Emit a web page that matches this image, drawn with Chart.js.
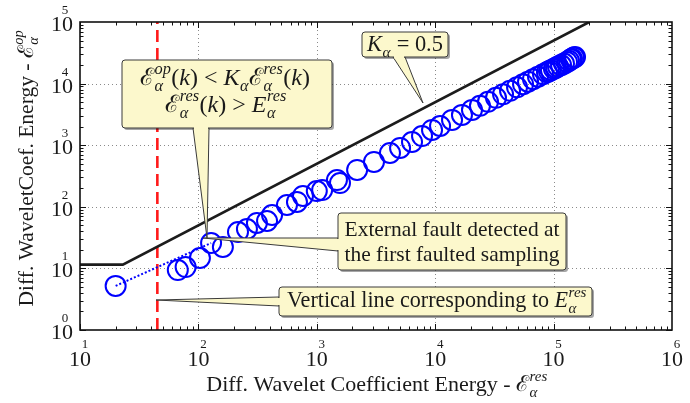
<!DOCTYPE html>
<html><head><meta charset="utf-8">
<script src="https://cdn.jsdelivr.net/npm/chart.js@4.4.0/dist/chart.umd.min.js"></script>
<style>html,body{margin:0;padding:0;background:#fff;}canvas{display:block;}</style>
</head><body>
<canvas id="c" width="690" height="403"></canvas>
<script>
// ---- data ----
const xRes = [20, 67, 78, 103, 128, 161, 216, 257, 312, 380, 419, 560, 680, 764, 1000, 1110, 1480, 1570, 2190, 3040, 4150, 5050, 6370, 7740, 9400, 10990, 13870, 16830, 20450, 23880, 27920, 32630, 37410, 42870, 49110, 55200, 60820, 67000, 73840, 81350, 87900, 91400, 95000, 100700, 104800, 108900, 115500, 122400, 129800, 134900, 140200, 143000, 148600, 151700];
const yOp = [5.2, 9.4, 10.5, 14.8, 25.8, 22.3, 39, 43.6, 54.6, 58.8, 73.6, 107, 120, 150, 180, 187, 272, 243, 396, 534, 747, 901, 1127, 1409, 1766, 2050, 2575, 3104, 3742, 4364, 5070, 5877, 6703, 7640, 8710, 9775, 10740, 11790, 12950, 14220, 15320, 15900, 16500, 17470, 18150, 18890, 19950, 21120, 22340, 23500, 24800, 25300, 26500, 27000];
const linkX = [20, 128];
const linkY = [5.2, 25.8];
const thrX = [10, 23, 200000];
const thrY = [11.5, 11.5, 100000];
const eResX = [45, 45];
const eResY = [1, 100000];
const xTickExp = [1, 2, 3, 4, 5, 6];
const yTickExp = [0, 1, 2, 3, 4, 5];
const xTitleText = 'Diff. Wavelet Coefficient Energy - ';
const yTitleText = 'Diff. WaveletCoef. Energy - ';
const kLabel = ' = 0.5';
const faultLines = ['External fault detected at', 'the first faulted sampling'];
const vertLabel = 'Vertical line corresponding to ';

const pts = (xs, ys) => xs.map((x, i) => ({x, y: ys[i]}));
const SERIF = '"Liberation Serif","DejaVu Serif","Times New Roman",serif';
const fnt = (s, it) => (it ? 'italic ' : '') + s + 'px ' + SERIF;
const TXT = '#1a1a1a';

function runWidth(ctx, parts, size) {
  let w = 0;
  for (const p of parts) {
    if (typeof p === 'string') { ctx.font = fnt(size, false); w += ctx.measureText(p).width; }
    else if (p.i !== undefined) { ctx.font = fnt(size, true); w += ctx.measureText(p.i).width; }
    else {
      ctx.font = fnt(size * 0.68, true);
      const a = p.s ? ctx.measureText(p.s).width : 0, b = p.b ? ctx.measureText(p.b).width : 0;
      w += Math.max(a, b) + 1;
    }
  }
  return w;
}
function drawRun(ctx, parts, x, y, size) {
  ctx.textAlign = 'left'; ctx.textBaseline = 'alphabetic'; ctx.fillStyle = TXT;
  for (const p of parts) {
    if (typeof p === 'string') { ctx.font = fnt(size, false); ctx.fillText(p, x, y); x += ctx.measureText(p).width; }
    else if (p.i !== undefined) { ctx.font = fnt(size, true); ctx.fillText(p.i, x, y); x += ctx.measureText(p.i).width; }
    else {
      ctx.font = fnt(size * 0.68, true);
      let w = 0;
      if (p.s) { ctx.fillText(p.s, x + 0.5, y - size * 0.45); w = Math.max(w, ctx.measureText(p.s).width); }
      if (p.b) { ctx.fillText(p.b, x + 0.5, y + size * 0.25); w = Math.max(w, ctx.measureText(p.b).width); }
      x += w + 1;
    }
  }
}
function drawRunCentered(ctx, parts, cx, y, size) {
  const w = runWidth(ctx, parts, size);
  drawRun(ctx, parts, cx - w / 2, y, size);
}
// fit a run to a target width, then draw it centred
function drawRunFit(ctx, parts, cx, y, target, maxSize) {
  const w0 = runWidth(ctx, parts, 20);
  const size = Math.min(maxSize, 20 * target / w0);
  drawRunCentered(ctx, parts, cx, y, size);
}
function rr(ctx, x, y, w, h, r) {
  ctx.beginPath();
  ctx.moveTo(x + r, y); ctx.lineTo(x + w - r, y); ctx.quadraticCurveTo(x + w, y, x + w, y + r);
  ctx.lineTo(x + w, y + h - r); ctx.quadraticCurveTo(x + w, y + h, x + w - r, y + h);
  ctx.lineTo(x + r, y + h); ctx.quadraticCurveTo(x, y + h, x, y + h - r);
  ctx.lineTo(x, y + r); ctx.quadraticCurveTo(x, y, x + r, y); ctx.closePath();
}
function callout(ctx, b, b1, b2, tip, side) {
  const fillC = '#fcf8cc', strokeC = '#3a3a3a';
  ctx.save();
  ctx.fillStyle = 'rgba(0,0,0,0.35)';
  rr(ctx, b.x + 2, b.y + 2, b.w, b.h, 3); ctx.fill();
  ctx.lineWidth = 1; ctx.strokeStyle = strokeC; ctx.fillStyle = fillC;
  ctx.beginPath(); ctx.moveTo(b1[0], b1[1]); ctx.lineTo(tip[0], tip[1]); ctx.lineTo(b2[0], b2[1]); ctx.closePath();
  ctx.fill(); ctx.stroke();
  rr(ctx, b.x, b.y, b.w, b.h, 3); ctx.fill(); ctx.stroke();
  ctx.beginPath();
  if (side === 'bottom') ctx.rect(b1[0] + 1, b1[1] - 2, b2[0] - b1[0] - 2, 3.5);
  else ctx.rect(b1[0] - 1.5, b1[1] + 1, 3.5, b2[1] - b1[1] - 2);
  ctx.fill();
  ctx.restore();
}

const E = 'ℰ';
const overlay = {
  id: 'overlay',
  beforeDatasetsDraw(chart) {
    const {ctx, chartArea: a, scales: {x, y}} = chart;
    ctx.save();
    ctx.strokeStyle = '#8a8a8a'; ctx.lineWidth = 1; ctx.setLineDash([1, 3]);
    xTickExp.forEach(e => {
      const p = Math.round(x.getPixelForValue(Math.pow(10, e))) + 0.5;
      if (p > a.left + 2 && p < a.right - 2) { ctx.beginPath(); ctx.moveTo(p, a.top); ctx.lineTo(p, a.bottom); ctx.stroke(); }
    });
    yTickExp.forEach(e => {
      const p = Math.round(y.getPixelForValue(Math.pow(10, e))) + 0.5;
      if (p > a.top + 2 && p < a.bottom - 2) { ctx.beginPath(); ctx.moveTo(a.left, p); ctx.lineTo(a.right, p); ctx.stroke(); }
    });
    ctx.restore();
  },
  afterDatasetsDraw(chart) {
    const {ctx, chartArea: a, scales: {x, y}} = chart;
    ctx.save();
    ctx.strokeStyle = '#111'; ctx.lineWidth = 1; ctx.setLineDash([]);
    for (let i = 0; i < xTickExp.length - 1; i++) {
      for (let m = 1; m <= 9; m++) {
        const p = Math.round(x.getPixelForValue(m * Math.pow(10, xTickExp[i]))) + 0.5;
        const L = m === 1 ? 6 : 3.5;
        ctx.beginPath(); ctx.moveTo(p, a.bottom); ctx.lineTo(p, a.bottom - L); ctx.moveTo(p, a.top); ctx.lineTo(p, a.top + L); ctx.stroke();
      }
    }
    for (let i = 0; i < yTickExp.length - 1; i++) {
      for (let m = 1; m <= 9; m++) {
        const p = Math.round(y.getPixelForValue(m * Math.pow(10, yTickExp[i]))) + 0.5;
        const L = m === 1 ? 6 : 3.5;
        ctx.beginPath(); ctx.moveTo(a.left, p); ctx.lineTo(a.left + L, p); ctx.moveTo(a.right, p); ctx.lineTo(a.right - L, p); ctx.stroke();
      }
    }
    ctx.lineWidth = 1.6; ctx.strokeStyle = '#111';
    ctx.strokeRect(a.left, a.top, a.right - a.left, a.bottom - a.top);
    ctx.fillStyle = TXT;
    xTickExp.forEach(e => {
      const p = x.getPixelForValue(Math.pow(10, e));
      ctx.font = fnt(22, false); ctx.textAlign = 'center'; ctx.textBaseline = 'alphabetic';
      ctx.fillText('10', p, 366);
      ctx.font = fnt(13, false); ctx.fillText(String(e), p + 5, 348);
    });
    yTickExp.forEach(e => {
      const p = y.getPixelForValue(Math.pow(10, e));
      ctx.font = fnt(22, false); ctx.textAlign = 'right'; ctx.textBaseline = 'alphabetic';
      ctx.fillText('10', 73, p + 9);
      ctx.font = fnt(13, false); ctx.textAlign = 'center'; ctx.fillText(String(e), 65, p - 8);
    });
    drawRunCentered(ctx, [xTitleText, E, {s: 'res', b: 'α'}], 377, 391, 22);
    ctx.save();
    ctx.translate(33, 168); ctx.rotate(-Math.PI / 2);
    drawRunCentered(ctx, [yTitleText, E, {s: 'op', b: 'α'}], 0, 0, 21.5);
    ctx.restore();

    callout(ctx, {x: 362, y: 32, w: 86, h: 25}, [393, 57], [405, 57], [423, 103], 'bottom');
    drawRunFit(ctx, [{i: 'K'}, {b: 'α'}, kLabel], 405, 51, 76, 23);

    callout(ctx, {x: 122, y: 60, w: 210, h: 68}, [193, 128], [209, 128], [207, 238], 'bottom');
    drawRunFit(ctx, [E, {s: 'op', b: 'α'}, '(', {i: 'k'}, ') < ', {i: 'K'}, {b: 'α'}, E, {s: 'res', b: 'α'}, '(', {i: 'k'}, ')'], 225, 85, 176, 24);
    drawRunFit(ctx, [E, {s: 'res', b: 'α'}, '(', {i: 'k'}, ') > ', {i: 'E'}, {s: 'res', b: 'α'}], 226, 112, 125, 24);

    callout(ctx, {x: 338, y: 213, w: 228, h: 57}, [338, 238], [338, 251], [203, 238], 'left');
    drawRunFit(ctx, [faultLines[0]], 452, 236, 215, 23);
    drawRunFit(ctx, [faultLines[1]], 452, 261, 215, 23);

    callout(ctx, {x: 279, y: 287, w: 313, h: 29}, [279, 297], [279, 306], [156, 300], 'left');
    drawRunFit(ctx, [vertLabel, {i: 'E'}, {s: 'res', b: 'α'}], 437, 307, 300, 23);
    ctx.restore();
  }
};

new Chart(document.getElementById('c'), {
  type: 'scatter',
  data: {
    datasets: [
      {data: pts(xRes, yOp), showLine: false, pointRadius: 10, pointHoverRadius: 10, borderColor: '#0000ff', backgroundColor: 'rgba(0,0,0,0)', pointBorderWidth: 2},
      {data: pts(linkX, linkY), showLine: true, pointRadius: 0, borderColor: '#0000ff', borderWidth: 2, borderDash: [2, 2]},
      {data: pts(thrX, thrY), showLine: true, pointRadius: 0, borderColor: '#1c1c1c', borderWidth: 2.6},
      {data: pts(eResX, eResY), showLine: true, pointRadius: 0, borderColor: '#ff1a1a', borderWidth: 2.6, borderDash: [12, 6]}
    ]
  },
  options: {
    responsive: false, animation: false, devicePixelRatio: 1,
    layout: {padding: {left: 80, right: 18, top: 22, bottom: 73}},
    plugins: {legend: {display: false}, tooltip: {enabled: false}},
    scales: {
      x: {type: 'logarithmic', min: 10, max: 1000000, display: false},
      y: {type: 'logarithmic', min: 1, max: 100000, display: false}
    }
  },
  plugins: [overlay]
});
</script>
</body></html>
